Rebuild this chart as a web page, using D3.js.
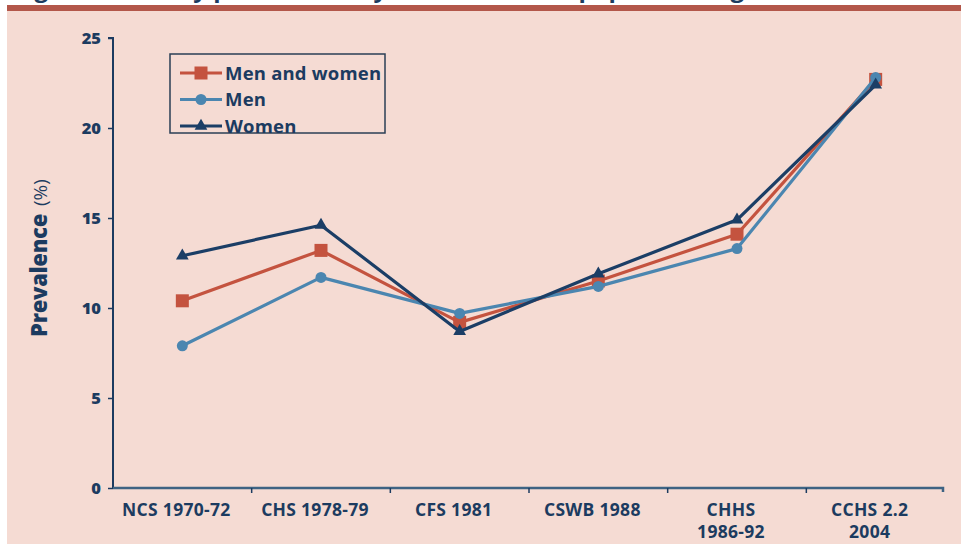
<!DOCTYPE html>
<html><head><meta charset="utf-8">
<script src="https://cdn.jsdelivr.net/npm/d3@7"></script>
<style>
html,body{margin:0;padding:0;background:#ffffff;overflow:hidden;}
svg{display:block;font-family:"Open Sans",sans-serif;}
</style></head>
<body>
<svg id="chart" width="961" height="544"></svg>
<script>
const categories = [["NCS 1970-72"], ["CHS 1978-79"], ["CFS 1981"], ["CSWB 1988"], ["CHHS", "1986-92"], ["CCHS 2.2", "2004"]];
const menAndWomen = [10.4, 13.2, 9.2, 11.5, 14.1, 22.7];
const men = [7.9, 11.7, 9.7, 11.2, 13.3, 22.8];
const women = [12.9, 14.6, 8.7, 11.9, 14.9, 22.4];
const yTicks = [0, 5, 10, 15, 20, 25];
const seriesNames = ["Men and women", "Men", "Women"];
const yLabel = "Prevalence";
const yUnit = "(%)";
const titleText = "Figure 1  Obesity prevalence, by sex, household population aged 20 to 64, Canada";

const navy = "#1c3b60";
const colors = ["#c4533f", "#4b86b0", "#1b3e66"];
const svg = d3.select("#chart");

// background panels
svg.append("rect").attr("x", 7).attr("y", 11).attr("width", 954).attr("height", 533).attr("fill", "#f5dbd3");
svg.append("rect").attr("x", 7).attr("y", 5).attr("width", 954).attr("height", 6).attr("fill", "#b3574a");
svg.append("text").attr("x", 14).attr("y", -3).attr("fill", navy)
  .attr("font-size", 24).attr("font-weight", 700).text(titleText);

const x = d3.scaleBand().domain(categories.map((d, i) => i)).range([113, 945]);
const y = d3.scaleLinear().domain([0, 25]).range([488, 38]);

// y axis
const yAxis = svg.append("g").attr("transform", "translate(113,0)")
  .call(d3.axisLeft(y).tickValues(yTicks).tickSize(5).tickPadding(7));
yAxis.select(".domain").attr("stroke", navy).attr("stroke-width", 2).attr("d", "M-5,38H0V488");
yAxis.selectAll(".tick line").attr("stroke", navy).attr("stroke-width", 1.5);
yAxis.selectAll(".tick text").attr("fill", navy).attr("font-size", 16.5).attr("font-weight", 800)
  .attr("font-family", "'Open Sans',sans-serif");

// x axis
const xAxis = svg.append("g").attr("transform", "translate(0,488)");
xAxis.append("path").attr("d", `M${x.range()[0]},0H${x.range()[1] - 2}V4`).attr("stroke", "#3e6383")
  .attr("stroke-width", 2.5).attr("fill", "none");
xAxis.selectAll("line.tk").data(categories.slice(1)).enter().append("line")
  .attr("x1", (d, i) => x(i + 1)).attr("x2", (d, i) => x(i + 1))
  .attr("y1", 0).attr("y2", 5).attr("stroke", navy).attr("stroke-width", 1.5);
const xl = xAxis.selectAll("text.cat").data(categories).enter().append("text")
  .attr("class", "cat")
  .attr("x", (d, i) => x(i) + x.bandwidth() / 2 - 6)
  .attr("y", 28).attr("text-anchor", "middle").attr("fill", navy)
  .attr("font-size", 17.5).attr("font-weight", 700).attr("letter-spacing", "0.3");
xl.each(function(d) {
  const t = d3.select(this);
  d.forEach((line, j) => {
    t.append("tspan").attr("x", t.attr("x")).attr("dy", j === 0 ? 0 : 22).text(line);
  });
});

// y label
const yl = svg.append("text").attr("transform", "translate(47,258) rotate(-90)")
  .attr("text-anchor", "middle").attr("fill", navy);
yl.append("tspan").attr("font-size", 22).attr("font-weight", 800).attr("letter-spacing", "-0.3").text(yLabel);
yl.append("tspan").attr("font-size", 19).attr("font-weight", 400).attr("dx", 8).text(yUnit);

const data = [menAndWomen, men, women];
const cx = i => x(i) + x.bandwidth() / 2;
const line = d3.line().x((d, i) => cx(i)).y(d => y(d));

function marker(g, k, px, py) {
  if (k === 0) {
    g.append("rect").attr("x", px - 6.5).attr("y", py - 6.5).attr("width", 13).attr("height", 13).attr("fill", colors[0]);
  } else if (k === 1) {
    g.append("circle").attr("cx", px).attr("cy", py).attr("r", 5.5).attr("fill", colors[1]);
  } else {
    g.append("path").attr("d", d3.symbol().type(d3.symbolTriangle).size(70)())
      .attr("transform", `translate(${px},${py})`).attr("fill", colors[2]);
  }
}

[0, 1, 2].forEach(k => {
  const g = svg.append("g");
  g.append("path").datum(data[k]).attr("d", line).attr("fill", "none")
    .attr("stroke", colors[k]).attr("stroke-width", 3.2).attr("stroke-linejoin", "round");
  data[k].forEach((v, i) => marker(g, k, cx(i), y(v)));
});

// legend
const lg = svg.append("g");
lg.append("rect").attr("x", 170).attr("y", 54).attr("width", 215).attr("height", 79)
  .attr("fill", "none").attr("stroke", "#2a3f55").attr("stroke-width", 1.5);
seriesNames.forEach((name, k) => {
  const ly = 73 + k * 26.5;
  lg.append("line").attr("x1", 180).attr("x2", 222).attr("y1", ly).attr("y2", ly)
    .attr("stroke", colors[k]).attr("stroke-width", 3.2);
  marker(lg, k, 201, ly);
  lg.append("text").attr("x", 225).attr("y", ly + 6.5).attr("fill", navy)
    .attr("font-size", 18.5).attr("font-weight", 700).attr("letter-spacing", "0.2").text(name);
});
</script>
</body></html>
